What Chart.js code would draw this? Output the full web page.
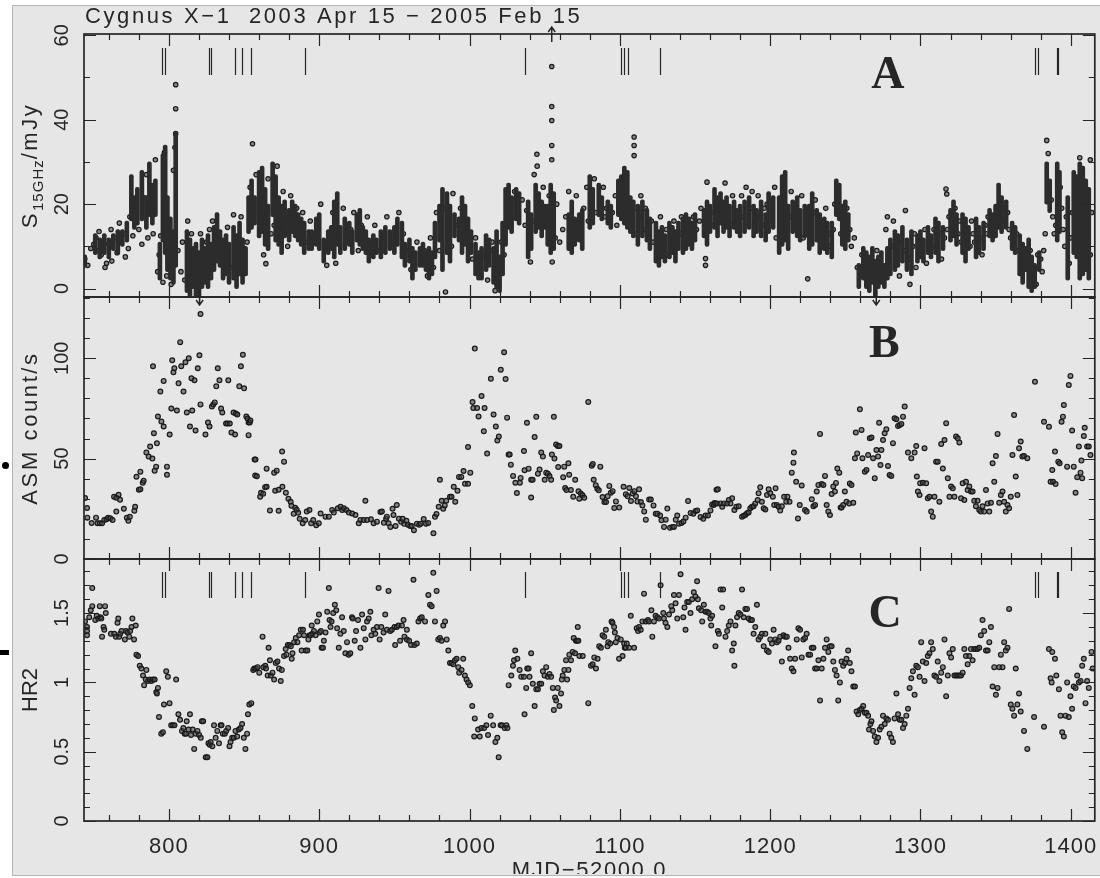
<!DOCTYPE html>
<html>
<head>
<meta charset="utf-8">
<title>Cygnus X-1 light curves</title>
<script src="https://cdn.jsdelivr.net/npm/chart.js@4.4.1/dist/chart.umd.min.js"></script>
<style>
  html, body { margin: 0; padding: 0; background: #fff; }
  #page { position: relative; width: 1100px; height: 878px; overflow: hidden; }
  #sheet { position: absolute; left: 12px; top: 5px; width: 1095px; height: 869px;
           background: #e6e6e6; border: 1px solid #b4b4b4; }
  #dot { position: absolute; left: 2px; top: 462px; width: 7px; height: 7px; border-radius: 50%; background: #000; }
  #dash { position: absolute; left: 0; top: 650px; width: 9px; height: 5px; background: #000; }
  canvas { position: absolute; left: 0; top: 0; }
</style>
</head>
<body>
<div id="page">
  <div id="sheet"></div>
  <div id="dot"></div>
  <div id="dash"></div>
  <canvas id="panelA" width="1100" height="878"></canvas>
  <canvas id="panelB" width="1100" height="878"></canvas>
  <canvas id="panelC" width="1100" height="878"></canvas>
</div>
<script>
// ---- values ----
var mjdMin = 743.5, mjdMax = 1416;
var xTickLabels = [800, 900, 1000, 1100, 1200, 1300, 1400];
var radioTicks = [0, 20, 40, 60];
var asmTicks = [0, 50, 100];
var hrTicks = [0, 0.5, 1, 1.5];

// days marked with vertical bars (panels A and C)
var flareDays = [795.4, 797.6, 826.5, 827.8, 844.0, 848.3, 854.6, 890.5, 1036.7,
                 1101.1, 1102.9, 1105.1, 1126.8, 1376.2, 1378.4, 1390.6, 1391.4];
var offscaleHigh = [1054.7];
var offscaleLow = [820.4, 1270.6];

// 15 GHz radio: dense runs of points drawn as [mjd, low, high]
var radioStreaks = [
  [744,5,8],[751,8,13],[754,7,12],[757,8,13],[760,7,12],[763,9,13],[766,8,14],[769,10,14],
  [772,11,16],[775,16,27],[777,14,22],[779,15,24],[782,16,28],[785,14,22],[787,17,30],[789,15,25],
  [791,17,26],[794,2,11],[796,11,32],[797.5,8,34],[799,4,22],[801,2,17],[803,1,14],[804.5,5,37],
  [812,-1,14],[814,-2,12],[816,0,10],[818,-2,11],[820,-2,9],[822,0,12],[824,1,10],[826,0,13],
  [828,2,11],[830,4,15],[832,6,18],[834,5,14],[836,2,12],[838,3,13],[840,1,11],[843,2,15],
  [845,0,13],[847,3,16],[849,1,12],[851,3,10],[853,13,22],[855,14,26],[857,15,22],[860,12,28],
  [862,13,29],[864,10,24],[866,9,20],[869,17,30],[871,11,27],[873,10,22],[875,8,20],[877,12,21],
  [880,11,19],[882,13,21],[884,12,20],[886,11,18],[888,10,17],[890,8,16],[893,9,14],[895,9,14],
  [898,10,17],[900,9,18],[903,6,12],[906,8,14],[908,9,15],[910,7,21],[912,10,23],[914,8,15],
  [917,9,17],[920,10,16],[922,8,14],[925,11,18],[927,10,19],[929,9,15],[931,8,14],[933,6,12],
  [936,7,13],[938,8,12],[941,7,14],[944,8,15],[947,9,14],[950,8,15],[952,10,17],[955,7,16],
  [957,5,11],[960,6,12],[962,2,10],[964,4,9],[967,5,10],[969,5,11],[971,4,9],[973,2,10],
  [975,3,9],[977,7,16],[980,11,20],[982,4,24],[985,8,23],[987,6,20],[990,12,18],[993,11,17],
  [995,8,22],[997,10,20],[999,6,17],[1001,8,14],[1004,3,11],[1006,2,9],[1008,2,10],[1011,4,13],
  [1013,5,12],[1016,1,10],[1018,0,14],[1020,-1,8],[1022,3,16],[1024,10,24],[1026,14,25],[1028,13,22],
  [1031,16,24],[1033,15,23],[1039,7,21],[1041,9,18],[1044,13,25],[1046,14,23],[1048,12,21],[1050,14,20],
  [1052,10,20],[1054,8,25],[1056,9,23],[1066,9,18],[1068,8,21],[1070,10,17],[1073,11,18],[1075,9,19],
  [1080,14,27],[1082,15,24],[1086,17,25],[1088,16,22],[1092,15,21],[1094,14,20],[1099,17,26],[1101,16,27],
  [1103,15,29],[1105,14,28],[1107,13,22],[1109,12,21],[1112,10,20],[1115,12,21],[1118,11,19],[1120,9,17],
  [1124,6,16],[1126,5,14],[1128,7,15],[1130,6,13],[1133,7,16],[1135,8,15],[1137,6,14],[1139,9,16],
  [1142,8,17],[1144,9,18],[1146,10,17],[1148,9,16],[1150,11,18],[1156,12,19],[1158,10,21],[1160,13,20],
  [1163,14,24],[1165,12,22],[1167,15,23],[1169,13,21],[1171,14,22],[1173,12,20],[1176,14,21],[1178,13,19],
  [1180,12,20],[1183,13,21],[1186,14,22],[1189,12,20],[1191,13,19],[1194,12,21],[1197,11,18],[1199,13,23],
  [1202,14,22],[1206,8,22],[1208,10,27],[1210,11,28],[1212,9,20],[1215,13,21],[1218,12,22],[1220,11,19],
  [1223,12,20],[1226,9,20],[1228,10,23],[1231,11,19],[1233,8,18],[1236,9,17],[1238,8,16],[1241,7,16],
  [1244,17,26],[1246,16,25],[1248,10,20],[1250,9,21],[1252,11,18],[1259,0,6],[1262,2,10],[1264,0,9],
  [1266,-1,8],[1268,1,10],[1270,-2,7],[1272,0,8],[1274,1,9],[1276,0,6],[1278,2,10],[1280,3,12],
  [1283,4,14],[1285,5,13],[1288,6,15],[1291,4,12],[1294,3,14],[1298,6,13],[1300,7,14],[1302,6,12],
  [1305,8,15],[1307,7,13],[1310,8,17],[1312,6,16],[1315,9,15],[1320,11,19],[1322,12,21],[1324,10,18],
  [1328,8,18],[1330,6,17],[1332,9,15],[1337,7,17],[1339,8,15],[1342,9,16],[1346,12,19],[1348,11,18],
  [1350,12,20],[1352,14,25],[1354,13,22],[1357,14,21],[1361,9,16],[1363,8,15],[1366,3,13],[1368,1,11],
  [1370,4,10],[1372,0,12],[1374,-1,8],[1376,0,6],[1379,4,9],[1384,20,30],[1386,18,26],[1391,11,30],
  [1392.5,13,28],[1398,2,22],[1402,8,28],[1404,7,27],[1406,2,30],[1408,3,29],[1410,4,26],[1412,2,24]
];

// 15 GHz radio: isolated points [mjd, mJy]
var radioPoints = [
  [744,7],[746,5.5],[748,9.5],[750,10.5],[751.5,12],[752,9],[753.5,13.5],[755,8],[756,11],[757.5,5],
  [758.5,6],[760,10.5],[761.5,14],[762,6.5],[764,12],[765.5,8.5],[767,15.5],[768,11],[770,13],[771,7.5],
  [773,9.5],[774,17],[776,12.5],[778,20],[780,14],[782,10.5],[783.5,21.5],[785,27],[786,12],[788,22],
  [789.5,13],[791,30.5],[792.5,4],[793.5,8],[794.5,12.5],[796,1.5],[797,32.2],[798.5,3],[800,12],[801.5,1],
  [803,28],[804.5,48.3],[804.5,42.6],[804.5,36.7],[804,33.4],[806,9],[808,4],[809,11],[810.5,2],[812.5,16],
  [815,13],[817,3],[819,-1],[821,13],[823,5],[825,11],[827,14],[829,16],[831,9],[833,12],
  [835,10],[837,8],[839,14.5],[841,5],[843,17.5],[846,9],[848,17],[850,6],[852,11],[854,24],
  [855.6,34.3],[856,19],[858,27],[861,20],[863,8],[864.5,5.9],[866,26],[868,13],[870,15],[872,29],
  [874,18],[876,23],[878,16],[879,10],[881,22],[883,15],[885,19],[887,13],[889,18],[891,11],
  [894,16],[896,12],[899,14],[901,20],[904,9],[905,5.5],[907,12],[909,18],[911,6],[913,13],
  [916,19],[918,11],[921,14],[923,18],[926,9],[928,15],[930,12],[932,17],[934,10],[937,15],
  [939,9],[942,12],[945,17],[948,11],[951,13],[953,18],[956,13],[958,9],[961,4.5],[963,7],
  [965,11],[968,7.5],[970,9],[972,3],[974,12],[976,5],[978,18],[980,9],[983,19],[984,-0.8],
  [986,13],[988,10],[989,22.5],[991,15],[994,19],[996,13],[998,15],[1000,11],[1002,7],[1004,12],
  [1007,5],[1009,8],[1012,2],[1014,9],[1015,11],[1017,-0.5],[1019,5],[1021,11],[1023,8],[1025,20],
  [1027,17],[1029,21],[1030,23],[1032,19],[1035,21],[1037,15],[1038,18.5],[1040,12],[1040.5,6.3],[1042,16],
  [1043,27],[1044.8,31.8],[1045,29],[1047,17],[1049,24],[1051,16],[1053,22],[1054.7,52.6],[1054.7,43.1],[1054.7,39.8],
  [1054.7,33.9],[1054.7,30.5],[1055,6.3],[1057,12],[1058,20],[1060,11],[1062,14],[1064,17],[1066,23],[1067,11],
  [1069,14],[1071,22],[1072,13],[1074,16],[1076,19],[1078,24],[1079,16],[1081,21],[1083,26],[1084,18],
  [1087,20],[1089,24],[1090,17],[1091,19],[1093,16],[1095,18],[1097,22],[1098,15],[1100,19],[1104,24],
  [1106,18],[1108,15],[1109.5,35.9],[1109.5,33.9],[1109.5,31.5],[1110,19],[1111,13],[1113,17],[1114,22],[1116,14],
  [1117,19],[1119,13],[1121,16],[1122,11],[1125,9],[1127,17],[1129,10],[1131,14],[1132,8],[1134,12],
  [1136,16],[1138,10],[1140,13],[1141,17],[1143,11],[1145,15],[1147,13],[1149,17],[1151,14],[1153,16],
  [1154,19],[1157,7.1],[1157,5.5],[1158,25.2],[1161,15],[1162,18],[1164,21],[1166,16],[1168,19],[1170,25],
  [1172,17],[1174,15],[1175,22],[1177,18],[1179,16],[1181,22],[1182,17],[1184,24],[1185,15],[1187,19],
  [1188,23],[1190,16],[1192,22],[1193,17],[1195,15],[1196,19],[1198,20],[1200,16],[1201,18],[1203,24],
  [1204,12],[1207,16],[1209,19],[1211,14],[1213,17],[1214,23],[1216,15],[1217,18],[1219,14],[1221,22],
  [1222,12],[1224,17],[1225,2.3],[1227,15],[1229,18],[1230,21],[1232,14],[1234,16],[1235,11],[1237,19],
  [1239,13],[1240,10],[1242,14],[1243,20],[1245,22],[1247,13],[1249,16],[1251,19],[1253,14],[1254,10],
  [1256,12],[1258,5],[1260,3],[1261,8],[1263,5],[1265,2],[1267,6],[1269,4],[1271,9],[1273,3],
  [1275,5],[1277,14],[1278,17],[1279,7],[1281,10],[1282,16],[1284,8],[1286,3],[1287,11],[1289,9],
  [1290,18.5],[1292,7],[1293,1],[1295,10],[1296,13],[1297,5],[1299,11],[1301,9],[1303,14],[1304,6],
  [1306,12],[1308,10],[1309,14],[1311,11],[1313,13],[1314,7],[1316,12],[1317,23.6],[1317.5,22.4],[1318,14],
  [1319,17],[1321,15],[1323,19],[1325,13],[1326,16],[1327,11],[1329,14],[1331,12],[1333,10],[1334,16],
  [1335,13],[1336,11],[1338,14],[1340,12],[1341,8],[1343,15],[1344,13],[1345,17],[1347,15],[1349,14],
  [1351,18],[1353,17],[1355,19],[1356,16],[1358,18],[1359,14],[1360,12],[1362,11],[1364,13],[1365,9],
  [1367,8],[1369,6],[1371,7],[1373,9],[1375,3],[1377,1],[1378,8],[1380,7],[1381,4],[1382,9],
  [1383,13],[1384,35.1],[1385,24],[1385,32],[1387,21],[1388,17],[1389,13],[1390,15],[1393,24],[1394,19],
  [1395,14],[1396,10],[1397,17],[1399,6],[1400,12],[1401,18],[1403,22],[1405,18],[1406,31],[1407,25],
  [1409,14],[1411,10],[1413,30.5],[1413,8],[1414,18]
];

// RXTE/ASM count rate [mjd, counts/s]
var asmPoints = [
  [744.2,30.4],[745.5,25.4],[745.7,20.6],[748.6,17.9],[751.5,20.6],[752.5,17.8],[754,17.8],[755.5,17.8],[757,19.4],[758.5,19.8],
  [759.5,20.6],[761,20.3],[762.5,19.4],[763.5,31],[765,30.5],[766.5,32],[767.5,29.5],[765,23.6],[770,25],[772,20.5],
  [773,19],[774,21],[777,24],[777.5,26],[778.4,41],[780,34.5],[781,34.8],[782.6,38],[783.2,39],[781,43.5],
  [785,53],[786.5,51],[787.5,56],[789,50],[789.4,96],[790,62.6],[790.5,44],[791.5,46],[792,57.6],[792.7,71],
  [795,68.5],[794.3,83.4],[796.5,66],[796.5,88.7],[798.7,46],[798.7,42],[800.5,62],[801.6,75],[802.2,99],[803,93],
  [803.6,95],[805.3,74],[806.4,87.5],[807.5,108],[808.2,96],[809.7,83.4],[811,98],[811.9,73],[813.2,100],[814,66],
  [815,90],[815.5,74],[817,89],[817.7,64],[819.2,95],[820.3,101.5],[821,77],[821,122],[824.3,62],[826,68],
  [827,66],[828.6,76],[829.5,77],[830.5,78],[831.5,86],[832.5,95],[833.6,89],[834.7,75],[835.5,73],[838,67.5],
  [839,67.5],[839.5,89],[840.5,67.5],[841.6,63],[844,62],[843,73],[844.5,72.5],[845.5,72],[846.8,86],[847.9,96],
  [849.2,101.7],[850,85],[851.5,71],[852.3,70],[853,68],[853.8,68],[854.2,69],[853,61.7],[857,49.5],[857.6,49.5],
  [857.4,41.6],[858.5,41.2],[860.7,31],[861.3,33],[862.7,32.5],[864,35.7],[865,36],[865,45],[867.2,24.2],[870.7,34],
  [873,34.5],[870,43],[871.7,44],[875.3,53.5],[876.6,48.5],[873,24],[875.5,36],[877.8,33],[879.5,30],[881,28.5],
  [881.5,26.5],[883,22.5],[884,25.5],[885,24.5],[886,23],[887,20],[889,17.8],[890.7,19.4],[891.7,23.6],[893.5,24.4],
  [894.6,17.8],[896,19.4],[898,16.8],[899.7,17.8],[900.9,22.7],[904.2,21.1],[906.4,21.1],[908.6,24.4],[909.7,23.1],[912.4,25.3],
  [914.2,26],[915.3,24.4],[916.4,25.3],[918.1,24.4],[919.7,23.1],[921.9,22.7],[924.1,21.9],[926.3,17.8],[927.4,19.4],[929.6,19.4],
  [930.7,29],[931.8,19.4],[934.4,19.8],[936.2,17.8],[938.4,18.6],[940.7,23.4],[941.7,23.6],[943,18],[944.5,20],[945,21.1],
  [946.1,17.8],[947.3,16],[948.8,25],[949.4,21.9],[950.8,16.4],[951.6,26.9],[953,20],[954.5,18.5],[955.5,20],[956.5,17.5],
  [958,19],[959,17],[960.5,16.4],[961.5,16.4],[963,14.3],[965,17.6],[966.5,17],[967.5,17.6],[969.5,19.9],[971,17.6],
  [972.5,17.9],[976,12.8],[977,21],[978,22.4],[979.5,26],[980.3,39.5],[981.5,29],[982.5,25],[983.5,26.7],[984.5,29],
  [987,31],[988,31],[989.5,36],[990.5,28.5],[992,34],[993,40.9],[994.5,40.9],[996,43.8],[997,37.5],[999,37.5],
  [1000.5,43],[999,55.8],[1002,78.2],[1003.5,104.8],[1002.5,75.2],[1005,75.2],[1006,71],[1008,81.2],[1010,75.2],[1009.5,63.6],
  [1011.7,52.5],[1014.2,89.8],[1016,72],[1017.5,66],[1018.5,59],[1019.5,61],[1020.8,94.3],[1023,103],[1024,89.6],[1025,70.4],
  [1026,52],[1026.7,52],[1027.5,47],[1029,41.4],[1030.5,38],[1031.5,32.9],[1033.5,38],[1034,40.4],[1036.2,53.8],[1036.6,44.2],
  [1038.2,67.9],[1039.3,45],[1041,39.5],[1041,30.6],[1042,39.5],[1043.3,60.8],[1044.4,70.8],[1045.5,42.5],[1046.6,44.6],[1047.7,53],
  [1048.8,51],[1050,39.5],[1051,43],[1052.1,42.5],[1053.2,41.3],[1054.3,39.5],[1054.8,52],[1056.1,70.8],[1056.5,50],[1057.6,57],
  [1058.7,56.3],[1059.8,56.3],[1059,45.8],[1062.3,40.7],[1063,46],[1063.6,35.4],[1064.5,34.4],[1065.8,47.7],[1066.3,42],[1067.4,34.4],
  [1069,31],[1070.3,39.5],[1072.5,33.7],[1073,30],[1074,32.6],[1075.2,31.7],[1076.3,30.5],[1079,78.2],[1081.3,46.5],[1082,47.3],
  [1082.6,39.5],[1084,36.7],[1085,35],[1086,34.2],[1087,46],[1088.5,30.9],[1089.7,28.4],[1090.8,28.4],[1091.9,31.2],[1093,36.4],
  [1094,33],[1095.2,33.8],[1096.3,25.4],[1097.4,28.7],[1099.6,25.6],[1102.5,36],[1104,32.2],[1105.2,31.2],[1106.3,35.4],[1107.4,28.9],
  [1108.5,32.6],[1109.6,33.8],[1110.7,31.2],[1111.7,28.7],[1112.8,34.7],[1114,28.4],[1115,26.7],[1116.2,23.7],[1117.3,19.6],[1119.5,29.6],
  [1120.6,29.6],[1122.4,26.7],[1123.9,22.6],[1125,22.6],[1126.8,21.7],[1127.7,19.3],[1129.4,16],[1130.5,19.6],[1131.6,25.1],[1133.4,15.6],
  [1135,16],[1136,16],[1137.2,19.6],[1138.2,21.7],[1139.4,17.6],[1141,17.9],[1142.3,18.7],[1143.8,20.6],[1145.4,28.9],[1147.1,22.9],
  [1148.9,22.6],[1150.4,23.9],[1151.5,24.2],[1153.7,20.9],[1155.5,20],[1157,21.7],[1158.6,21.7],[1160.3,24.2],[1161.4,27.2],[1163,27.9],
  [1164.3,34.5],[1162.5,26.9],[1163.5,27.7],[1164.8,27.7],[1165.2,34.7],[1167,27.7],[1168.1,26],[1169.2,27.7],[1171.4,27.7],[1172.5,29.4],
  [1173.6,27.7],[1174.7,30.2],[1176.2,24.4],[1177.5,26],[1179.1,26.3],[1181.3,21.1],[1182.4,21.5],[1183.5,21.9],[1184.6,22.8],[1185.7,23.1],
  [1186.8,25.3],[1187.9,26],[1189,26.3],[1190.1,27.7],[1191.7,29.4],[1192.3,32.7],[1193.4,35.7],[1194.5,28.5],[1195.7,25.3],[1196.8,24.7],
  [1197.9,31.9],[1199,34.7],[1200.1,32.7],[1201.8,31],[1202.7,26.9],[1203.6,35.2],[1204.5,26.9],[1205.6,26],[1206.7,24.1],[1207.8,26.3],
  [1209.3,31],[1210.7,28.5],[1211.5,31],[1212.9,28.5],[1214.4,43],[1215.5,48],[1215.8,53],[1217.3,38.5],[1218.5,20.2],[1219.7,26.9],
  [1221,36.6],[1223.2,24.4],[1224.3,23.6],[1227.7,29.7],[1228.8,26.3],[1229.9,26.9],[1231,33.6],[1232.1,36.9],[1233.2,62.3],[1234.3,37.3],
  [1235.4,36.9],[1236.5,41.4],[1237.6,26.9],[1238.7,23.6],[1239.8,21.9],[1240.9,32.4],[1242,36.1],[1243.1,33.6],[1243.8,37.9],[1244.7,45.1],
  [1246,43],[1246.9,25.7],[1247.5,25.7],[1248.6,26.9],[1249.7,33.6],[1250.8,28.5],[1252.6,27.7],[1253,37.6],[1254.1,36.9],[1255.3,28],
  [1256.4,50.2],[1257,63],[1257.9,52.6],[1259.7,74.6],[1260.8,64.3],[1261.4,50.2],[1263,43.5],[1264.1,44.3],[1265.2,51.8],[1266.3,60.1],
  [1267.4,60.5],[1268.5,50.2],[1269.6,40.2],[1270.7,54.3],[1271.8,51],[1272.5,67.9],[1273.4,46.8],[1274,54.3],[1275.1,59.3],[1276.2,62.6],
  [1277.3,64.6],[1278.4,46.3],[1279.5,41.8],[1280.6,41.4],[1281.7,57.7],[1282.8,70.1],[1284,69.6],[1285.1,66.3],[1286.2,66.8],[1287.3,67.3],
  [1288.4,70.9],[1289.5,75.9],[1291.7,53],[1293.9,50.2],[1296.1,53],[1297.2,56.3],[1297.6,41.1],[1298.3,33.6],[1299.4,31.9],[1299.8,37.7],
  [1301.6,38],[1302.7,55.2],[1303.8,37.7],[1304.9,30.2],[1306,31],[1307.1,23.6],[1308.2,21.1],[1309.3,31],[1310.4,48.5],[1311.5,48.5],
  [1312.6,28.5],[1313.8,57.3],[1314.9,45.1],[1316,59.3],[1317.1,67.6],[1318.2,40.2],[1319.3,31],[1320.4,36.1],[1321.5,35.2],[1322.6,31],
  [1323.7,61],[1324.8,60.1],[1325.9,58],[1327,30.2],[1328.1,37.7],[1329.2,29.4],[1330.3,38.5],[1331.4,34.4],[1332.5,36.1],[1333.6,33.6],
  [1334.7,33.6],[1335.8,29],[1336.9,26.3],[1338,29],[1339.1,24.4],[1340.2,23.6],[1341.3,26.3],[1342.4,23.6],[1343.6,34.4],[1344.7,27.7],
  [1345.8,23.6],[1346.9,28],[1348,47.7],[1349.1,38.5],[1350.2,51.3],[1351.3,62.3],[1352.4,28],[1353.5,31.9],[1354.6,33.6],[1355.7,28.5],
  [1356.8,23.6],[1357.9,26.9],[1359,25.3],[1360.1,31],[1361.2,51.8],[1362.3,71.7],[1363.4,41.1],[1364.5,31.9],[1365.6,55.2],[1366.7,58.5],
  [1367.8,51],[1368.9,51.3],[1371.1,50.2],[1376.2,88.3],[1382.2,68.4],[1385.5,65.9],[1386.6,38.5],[1387.7,44.3],[1388.2,38.5],[1389.5,53.5],
  [1389.9,37.3],[1391.7,48.5],[1392.6,47.7],[1393.9,68.4],[1394.8,70.9],[1395.4,76.7],[1397.6,46],[1398.7,86.7],[1399.8,91.2],[1400.9,64],
  [1402,46],[1403.2,33],[1404.3,40.7],[1405.4,56],[1406.5,43],[1407.1,49],[1407.6,40.2],[1408.7,61.3],[1409.3,65.4],[1410.9,56],
  [1412,56],[1413.1,51.8]
];

// ASM hardness ratio HR2 [mjd, ratio]
var hrPoints = [
  [744.2,1.44],[745.5,1.40],[745.5,1.37],[745.5,1.34],[747,1.47],[748,1.52],[749,1.55],[749,1.68],[751,1.45],[752,1.48],
  [753,1.46],[754,1.55],[754.5,1.47],[755,1.46],[755.5,1.33],[756.5,1.40],[757,1.38],[757.5,1.55],[758,1.50],[761.4,1.35],
  [763.6,1.35],[764.7,1.33],[765.8,1.43],[766.3,1.46],[766.9,1.33],[767.6,1.35],[768.5,1.37],[770.7,1.31],[771.4,1.37],[772.5,1.36],
  [773.6,1.33],[774.2,1.37],[775.1,1.40],[775.7,1.46],[776.8,1.31],[777.9,1.41],[778.4,1.20],[779.5,1.19],[780.6,1.12],[781.7,1.10],
  [782.8,1.05],[783.5,0.98],[785,1.09],[784.6,1.02],[786.1,1.01],[787.2,1.02],[788.3,1.01],[789.4,1.02],[790.5,1.02],[791.6,0.93],
  [792,0.92],[792.7,0.96],[793.4,0.75],[794.9,0.63],[796,0.64],[796.7,0.84],[798.2,1.08],[799.3,1.04],[800.4,0.85],[801.5,0.69],
  [802.6,0.69],[803.7,0.69],[804.8,1.02],[806.3,0.77],[807.4,0.73],[808.7,0.65],[809.6,0.67],[810.5,0.63],[811.4,0.63],[811.8,0.72],
  [813.1,0.66],[814,0.77],[814.7,0.62],[815.8,0.66],[816.8,0.52],[817.9,0.63],[819,0.65],[820.1,0.62],[821.2,0.60],[821.9,0.72],
  [822.8,0.72],[824.5,0.46],[825.6,0.46],[826.3,0.56],[827.2,0.55],[827.8,0.57],[828.9,0.54],[830,0.69],[831.1,0.60],[832.2,0.65],
  [833.3,0.56],[834.4,0.69],[835,0.69],[835.9,0.63],[837.2,0.63],[838.1,0.65],[839.4,0.67],[840.3,0.54],[841,0.57],[842.1,0.60],
  [843.2,0.60],[844.3,0.65],[845.4,0.61],[846.5,0.66],[847.6,0.67],[848.7,0.70],[849.8,0.60],[850.9,0.52],[852,0.63],[852.6,0.77],
  [853.5,0.84],[854.8,0.85],[856.1,1.09],[856.8,1.10],[857.9,1.10],[859,1.11],[860.1,1.07],[862.3,1.33],[862.8,1.11],[864.1,1.12],
  [864.6,1.10],[865.7,1.05],[866.3,1.25],[867.2,1.16],[867.8,1.05],[868.9,1.07],[870,1.02],[871.1,1.14],[872.2,1.15],[873.3,1.10],
  [874.4,1.01],[875.1,1.09],[876.6,1.19],[877.7,1.24],[878.2,1.20],[879.1,1.27],[880,1.27],[881.1,1.26],[881.7,1.17],[882.2,1.21],
  [883.3,1.29],[884.4,1.32],[885.5,1.29],[886.6,1.34],[887.7,1.38],[888.3,1.23],[889.2,1.38],[889.9,1.34],[891,1.23],[892.1,1.23],
  [892.8,1.31],[893.6,1.34],[894.3,1.34],[895,1.41],[895.4,1.35],[896.5,1.37],[897.6,1.34],[898.7,1.44],[899.8,1.49],[900.3,1.36],
  [901.1,1.37],[901.6,1.25],[902.5,1.25],[903.1,1.30],[904.2,1.36],[905.3,1.51],[906.4,1.68],[906.9,1.45],[907.5,1.40],[908.2,1.44],
  [909.3,1.50],[910.4,1.56],[911.3,1.52],[911.9,1.39],[913,1.25],[914.1,1.35],[915.2,1.47],[916.3,1.37],[917.4,1.21],[918.5,1.29],
  [919.6,1.20],[920.7,1.21],[921.8,1.47],[922.3,1.46],[923.6,1.30],[924.5,1.37],[925.8,1.45],[927.4,1.25],[928.5,1.49],[929.6,1.39],
  [930.7,1.31],[931.8,1.44],[932.9,1.46],[934,1.51],[934.7,1.34],[936.2,1.38],[937.3,1.35],[938.4,1.40],[939.5,1.68],[940.2,1.31],
  [941.3,1.40],[942.8,1.36],[943.9,1.49],[945,1.38],[946.1,1.66],[947.2,1.37],[948.3,1.38],[950.1,1.40],[950.5,1.27],[951.6,1.40],
  [952.7,1.41],[953.8,1.30],[955,1.41],[956.1,1.45],[956.7,1.33],[958.3,1.38],[958.3,1.31],[959.8,1.30],[961.1,1.27],[962.7,1.74],
  [963.3,1.27],[964.9,1.28],[966,1.44],[967.1,1.46],[968.2,1.47],[970.4,1.44],[972.6,1.63],[973.7,1.56],[974.8,1.55],[975.9,1.79],
  [977,1.44],[978.1,1.66],[979.2,1.31],[980.3,1.32],[981.4,1.30],[982.5,1.41],[983.7,1.44],[984.8,1.31],[985.9,1.23],[987,1.14],
  [988.1,1.14],[989.2,1.13],[990.3,1.16],[991.4,1.17],[992.5,1.11],[993.1,1.07],[994.7,1.09],[995.8,1.17],[996.9,1.05],[998,1.02],
  [999.1,1.00],[1000.2,0.98],[1001.8,0.83],[1003.5,0.74],[1003.1,0.61],[1005.7,0.66],[1006.8,0.61],[1007.9,0.67],[1009.7,0.67],[1011.2,0.69],
  [1012.3,0.62],[1014.1,0.76],[1015.7,0.69],[1017.2,0.57],[1018.5,0.60],[1019.4,0.46],[1020.7,0.69],[1021.6,0.69],[1023.4,0.67],[1024.5,0.69],
  [1025.2,0.67],[1026,0.98],[1027.8,1.05],[1028.9,1.12],[1029.6,1.16],[1030.4,1.23],[1031.8,1.17],[1033.3,1.09],[1034.4,1.04],[1036.2,1.04],
  [1036.6,0.77],[1037.7,0.96],[1038.4,1.10],[1039.3,1.10],[1039.9,1.04],[1041,1.21],[1042.1,0.99],[1043.3,0.83],[1044.4,0.95],[1045.5,0.95],
  [1046.6,0.99],[1047.7,0.99],[1048.8,1.08],[1049.9,1.05],[1051,1.11],[1052.1,1.04],[1053.2,1.06],[1054.3,1.04],[1055.4,0.96],[1056.1,0.80],
  [1056.9,0.89],[1057.6,0.87],[1058.7,0.96],[1059.8,0.83],[1060.9,0.92],[1061.4,1.02],[1062,1.05],[1063.1,1.09],[1064.2,1.16],[1064.9,1.02],
  [1065.8,1.09],[1066.4,1.20],[1067.5,1.16],[1068.6,1.22],[1069.3,1.32],[1070.2,1.21],[1070.8,1.30],[1071.5,1.30],[1072,1.40],[1072.4,1.30],
  [1073.1,1.19],[1075.3,1.19],[1079,0.85],[1080.8,1.12],[1081.9,1.13],[1083,1.18],[1084.1,1.10],[1085.2,1.17],[1086.3,1.26],[1087.4,1.25],
  [1088.5,1.34],[1089.6,1.33],[1090.7,1.38],[1091.8,1.26],[1092.3,1.29],[1093.6,1.28],[1094.5,1.44],[1095.1,1.43],[1096.2,1.40],[1096.7,1.36],
  [1097.3,1.29],[1098.4,1.32],[1099.5,1.17],[1100.6,1.31],[1101.8,1.19],[1102.9,1.28],[1103.3,1.25],[1104,1.25],[1104.6,1.28],[1106.2,1.25],
  [1107.3,1.48],[1109.5,1.25],[1111.2,1.39],[1112.1,1.37],[1112.8,1.40],[1113.9,1.38],[1115,1.44],[1116.1,1.64],[1117.2,1.44],[1118.7,1.45],
  [1119.4,1.44],[1121,1.52],[1121.6,1.33],[1122.7,1.44],[1123.8,1.48],[1124.9,1.47],[1126,1.46],[1127.1,1.70],[1128.9,1.50],[1129.3,1.46],
  [1130.4,1.43],[1131.6,1.40],[1132.7,1.49],[1134.2,1.55],[1134.9,1.52],[1136,1.63],[1137.1,1.57],[1138.2,1.46],[1139.3,1.63],[1140.4,1.78],
  [1142.2,1.47],[1143,1.54],[1143.7,1.38],[1144.8,1.58],[1145.9,1.58],[1147,1.50],[1148.1,1.60],[1149.2,1.65],[1150.3,1.62],[1151.4,1.73],
  [1151.9,1.60],[1152.6,1.535],[1154.1,1.52],[1155.9,1.56],[1157,1.51],[1158.1,1.51],[1159.2,1.50],[1160.3,1.46],[1161.4,1.48],[1160.8,1.41],
  [1154.8,1.44],[1163.6,1.26],[1165.2,1.37],[1165.9,1.35],[1167,1.67],[1168.7,1.67],[1168.1,1.54],[1170.3,1.33],[1171.4,1.37],[1172.5,1.41],
  [1173.6,1.44],[1174.7,1.23],[1175.8,1.28],[1176.2,1.12],[1176.9,1.41],[1178,1.47],[1179.1,1.50],[1180.2,1.49],[1181.3,1.67],[1182.4,1.47],
  [1183.5,1.53],[1184.6,1.53],[1185.7,1.46],[1186.8,1.45],[1187.9,1.45],[1189,1.35],[1190.1,1.40],[1191.2,1.56],[1192.3,1.31],[1193.4,1.33],
  [1194.5,1.35],[1195.7,1.26],[1196.8,1.35],[1197.9,1.23],[1199,1.22],[1200.1,1.31],[1201.2,1.28],[1202.3,1.38],[1203.4,1.31],[1204.5,1.29],
  [1205.6,1.30],[1206.7,1.33],[1207.8,1.15],[1208.9,1.34],[1210,1.33],[1211.1,1.33],[1212.2,1.25],[1213.3,1.17],[1214.4,1.10],[1215.5,1.08],
  [1216.6,1.17],[1217.7,1.31],[1218.8,1.39],[1219.9,1.38],[1221,1.18],[1222.1,1.31],[1223.2,1.32],[1224.3,1.35],[1225.5,1.20],[1226.6,1.20],
  [1227.7,1.25],[1228.8,1.25],[1229.9,1.10],[1231,1.10],[1232.1,1.16],[1233.2,0.87],[1234.3,1.10],[1235.4,1.17],[1236.5,1.25],[1237.6,1.31],
  [1238.7,1.22],[1239.8,1.26],[1240.9,1.26],[1242,1.15],[1243.1,1.09],[1244.2,1.05],[1245.3,0.87],[1246.4,1.00],[1247.5,1.15],[1248.6,1.12],
  [1249.7,1.14],[1250.8,1.17],[1251.9,1.23],[1253,1.14],[1254.1,1.08],[1255.3,0.97],[1256.4,0.97],[1257.5,0.79],[1258.6,0.77],[1259.7,0.80],
  [1260.8,0.81],[1261.9,0.83],[1263,0.78],[1264.1,0.78],[1265.2,0.76],[1265.8,0.66],[1266.7,0.70],[1267.4,0.72],[1268.5,0.65],[1269.6,0.61],
  [1270.7,0.57],[1271.8,0.60],[1272.9,0.66],[1274,0.68],[1275.1,0.76],[1276.2,0.70],[1277.3,0.74],[1278.4,0.73],[1279.5,0.63],[1280.6,0.60],
  [1281.7,0.57],[1282.8,0.74],[1284,0.92],[1285.1,0.77],[1286.2,0.73],[1287.3,0.73],[1288.4,0.67],[1289.5,0.70],[1290.6,0.76],[1291.7,0.81],
  [1292.8,0.96],[1293.9,1.03],[1295,1.08],[1296.1,0.91],[1297.2,1.12],[1298.3,1.11],[1299.4,1.04],[1300.5,1.29],[1301.6,1.15],[1302.7,1.01],
  [1303.8,1.14],[1304.9,1.19],[1306,1.21],[1307.1,1.29],[1308.2,1.24],[1309.3,1.05],[1310.4,1.04],[1311.5,1.15],[1312.6,1.01],[1313.8,1.07],
  [1314.9,1.11],[1316,1.31],[1317.1,0.90],[1318.2,1.05],[1319.3,1.21],[1320.4,1.18],[1321.5,1.24],[1322.6,1.05],[1323.7,1.05],[1324.8,1.05],
  [1325.9,1.05],[1327,1.05],[1328.1,1.07],[1329.2,1.24],[1330.3,1.19],[1331.4,1.13],[1332.5,1.19],[1333.6,1.24],[1334.7,1.16],[1335.8,1.24],
  [1336.9,1.24],[1338,1.24],[1339.1,1.25],[1340.2,1.34],[1341.3,1.45],[1342.4,1.37],[1343.6,1.23],[1344.7,1.23],[1345.8,1.29],[1346.9,1.40],
  [1348,0.97],[1349.1,1.11],[1350.2,0.91],[1351.3,0.96],[1352.4,1.11],[1353.5,1.20],[1354.6,1.11],[1355.7,1.29],[1356.8,1.23],[1357.9,1.25],
  [1359,1.53],[1360.1,0.84],[1361.2,0.81],[1362.3,0.76],[1363.4,1.10],[1364.5,0.84],[1365.6,0.92],[1366.7,0.79],[1368.9,0.65],[1371.1,0.52],
  [1375.6,0.75],[1382.2,0.68],[1385.5,1.24],[1386.6,1.03],[1387.3,1.00],[1387.7,1.22],[1389.5,1.17],[1390.4,1.05],[1392.1,0.95],[1393.2,0.76],
  [1394.3,0.64],[1395.4,0.61],[1396.5,0.76],[1397.6,1.00],[1398.7,0.75],[1399.8,0.90],[1400.9,0.81],[1402,0.97],[1403.2,0.96],[1404.3,1.05],
  [1405.4,1.00],[1406.5,1.01],[1407.6,1.12],[1408.7,1.17],[1409.8,0.85],[1410.9,1.01],[1412,0.96],[1413.8,1.22],[1414.6,1.10]
];

// ---- drawing ----
var INK = '#262626';
var SANS = '"Liberation Sans", Arial, sans-serif';

function toXY(list) {
  return list.map(function (p) { return {x: p[0], y: p[1]}; });
}

function rotatedText(ctx, parts, baseX, centerY) {
  var total = 0;
  parts.forEach(function (p) {
    ctx.font = p.font;
    ctx.letterSpacing = p.spacing || '0px';
    p.w = ctx.measureText(p.text).width;
    total += p.w;
  });
  ctx.save();
  ctx.translate(baseX, centerY);
  ctx.rotate(-Math.PI / 2);
  ctx.textAlign = 'left';
  ctx.textBaseline = 'alphabetic';
  var cur = -total / 2;
  parts.forEach(function (p) {
    ctx.font = p.font;
    ctx.letterSpacing = p.spacing || '0px';
    ctx.fillText(p.text, cur, p.dy || 0);
    cur += p.w;
  });
  ctx.restore();
}

function arrow(ctx, x, yTail, yTip) {
  var dir = yTip < yTail ? 1 : -1;
  ctx.beginPath();
  ctx.moveTo(x, yTail);
  ctx.lineTo(x, yTip);
  ctx.moveTo(x - 3.5, yTip + dir * 5);
  ctx.lineTo(x, yTip);
  ctx.lineTo(x + 3.5, yTip + dir * 5);
  ctx.stroke();
}

var pgFrame = {
  id: 'pgFrame',
  afterDatasetsDraw: function (chart, args, o) {
    var ctx = chart.ctx, a = chart.chartArea;
    var xs = chart.scales.x, ys = chart.scales.y;
    ctx.save();
    ctx.strokeStyle = INK;
    ctx.fillStyle = INK;

    // box
    ctx.lineWidth = 1.7;
    ctx.strokeRect(a.left, a.top, a.right - a.left, a.bottom - a.top);

    // ticks, all pointing inwards
    ctx.lineWidth = 1.2;
    ctx.beginPath();
    for (var v = 760; v <= 1400; v += 20) {
      var px = Math.round(xs.getPixelForValue(v)) + 0.5;
      var len = v % 100 === 0 ? 12 : 6;
      ctx.moveTo(px, a.top); ctx.lineTo(px, a.top + len);
      ctx.moveTo(px, a.bottom); ctx.lineTo(px, a.bottom - len);
    }
    for (var k = 0; k * o.minorStep <= ys.max + 1e-9; k++) {
      var val = k * o.minorStep;
      var py = Math.round(ys.getPixelForValue(val)) + 0.5;
      var q = val / o.majorStep;
      var l = Math.abs(q - Math.round(q)) < 1e-6 ? 12 : 6;
      ctx.moveTo(a.left, py); ctx.lineTo(a.left + l, py);
      ctx.moveTo(a.right, py); ctx.lineTo(a.right - l, py);
    }
    ctx.stroke();

    // y tick labels (rotated, PGPLOT style)
    o.ticks.forEach(function (t) {
      rotatedText(ctx, [{text: String(t), font: '20px ' + SANS}], 68, ys.getPixelForValue(t));
    });

    // axis title
    rotatedText(ctx, o.title, 37, (a.top + a.bottom) / 2);

    // panel letter
    ctx.font = 'bold 46px "Liberation Serif", serif';
    ctx.letterSpacing = '0px';
    ctx.textAlign = 'center';
    ctx.textBaseline = 'alphabetic';
    ctx.fillText(o.letter[0], xs.getPixelForValue(o.letter[1]), ys.getPixelForValue(o.letter[2]));

    // day markers
    if (o.markers) {
      ctx.lineWidth = 1.2;
      ctx.beginPath();
      flareDays.forEach(function (d) {
        var mx = Math.round(xs.getPixelForValue(d)) + 0.5;
        ctx.moveTo(mx, a.top + o.markers[0]);
        ctx.lineTo(mx, a.top + o.markers[1]);
      });
      ctx.stroke();
    }

    // off-scale radio points
    if (o.limits) {
      ctx.lineWidth = 1.5;
      offscaleHigh.forEach(function (d) {
        arrow(ctx, xs.getPixelForValue(d), a.top + 8, a.top - 7);
      });
      offscaleLow.forEach(function (d) {
        arrow(ctx, xs.getPixelForValue(d), a.bottom - 7, a.bottom + 8);
      });
    }

    if (o.heading) {
      ctx.font = '22px ' + SANS;
      ctx.letterSpacing = '2.6px';
      ctx.textAlign = 'left';
      ctx.fillText(o.heading, 85, 23);
    }

    if (o.xLabels) {
      ctx.font = '22px ' + SANS;
      ctx.letterSpacing = '1px';
      ctx.textAlign = 'center';
      xTickLabels.forEach(function (t) {
        ctx.fillText(String(t), xs.getPixelForValue(t), 853);
      });
      ctx.save();
      ctx.beginPath();
      ctx.rect(0, 0, chart.width, 874);
      ctx.clip();
      ctx.letterSpacing = '1.6px';
      ctx.fillText('MJD\u221252000.0', (a.left + a.right) / 2, 877);
      ctx.restore();
    }
    ctx.restore();
  }
};

var dotStyle = {
  pointRadius: 2.4,
  pointBorderWidth: 1.2,
  pointBorderColor: '#1a1a1a',
  pointBackgroundColor: 'rgba(70,70,70,0.6)'
};

function panel(id, pad, yMin, yMax, datasets, frame) {
  return new Chart(document.getElementById(id), {
    type: 'scatter',
    data: {datasets: datasets},
    options: {
      responsive: false,
      animation: false,
      events: [],
      devicePixelRatio: 1,
      layout: {padding: pad},
      scales: {
        x: {type: 'linear', min: mjdMin, max: mjdMax, offset: false, display: false},
        y: {type: 'linear', min: yMin, max: yMax, offset: false, display: false}
      },
      plugins: {legend: {display: false}, tooltip: {enabled: false}, pgFrame: frame}
    },
    plugins: [pgFrame]
  });
}

panel('panelA', {left: 84, right: 1, top: 34, bottom: 581}, -2, 60.3, [
  {
    type: 'bar',
    data: radioStreaks.map(function (s) { return {x: s[0], y: [s[1], s[2]]}; }),
    backgroundColor: '#2c2c2c',
    barThickness: 4,
    borderRadius: 2,
    borderSkipped: false,
    grouped: false
  },
  Object.assign({data: toXY(radioPoints)}, dotStyle, {pointRadius: 2.2})
], {
  majorStep: 20, minorStep: 10, ticks: radioTicks,
  title: [
    {text: 'S', font: '22px ' + SANS, spacing: '2.5px'},
    {text: '15GHz', font: '15px ' + SANS, spacing: '1px', dy: 6},
    {text: '/mJy', font: '22px ' + SANS, spacing: '2.5px'}
  ],
  letter: ['A', 1278.4, 47.6],
  markers: [14, 41],
  limits: true,
  heading: 'Cygnus X\u22121  2003 Apr 15 \u2212 2005 Feb 15'
});

panel('panelB', {left: 84, right: 1, top: 297, bottom: 319}, 0, 130.5, [
  Object.assign({data: toXY(asmPoints)}, dotStyle)
], {
  majorStep: 50, minorStep: 10, ticks: asmTicks,
  title: [{text: 'ASM count/s', font: '22px ' + SANS, spacing: '2.6px'}],
  letter: ['B', 1276, 100.6]
});

panel('panelC', {left: 84, right: 1, top: 559, bottom: 57}, 0, 1.89, [
  Object.assign({data: toXY(hrPoints)}, dotStyle)
], {
  majorStep: 0.5, minorStep: 0.1, ticks: hrTicks,
  title: [{text: 'HR2', font: '22px ' + SANS}],
  letter: ['C', 1276.5, 1.40],
  markers: [13, 39],
  xLabels: true
});
</script>
</body>
</html>
